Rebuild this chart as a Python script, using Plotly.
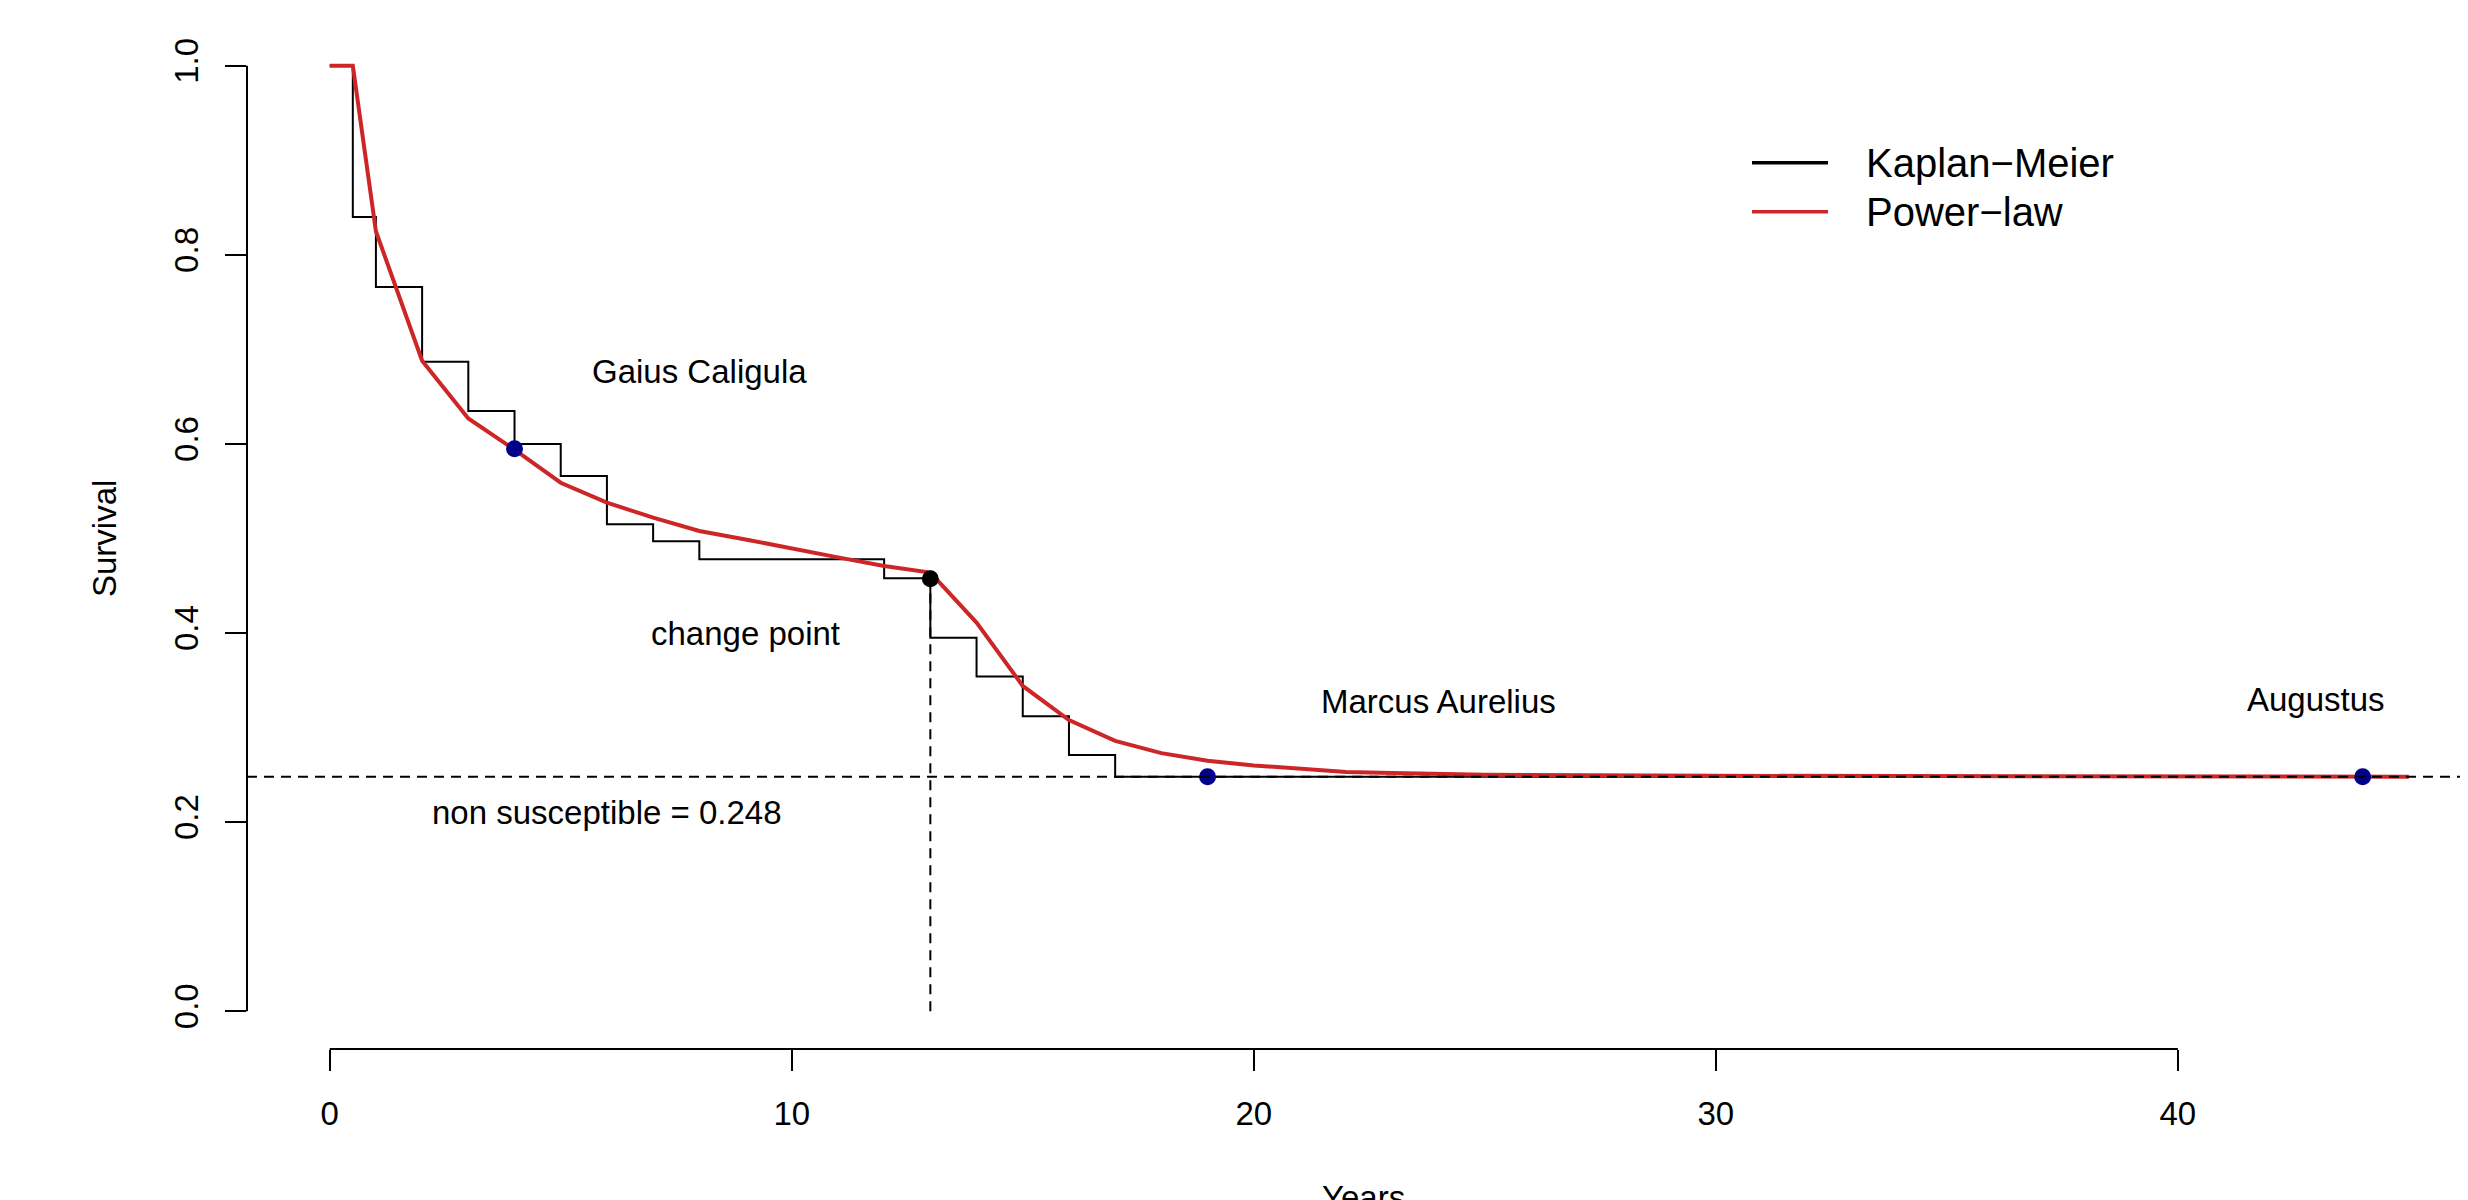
import plotly.graph_objects as go

# ---------------- data ----------------
km_time = [0, 0.5, 1, 2, 3, 4, 5, 6, 7, 8, 12, 13, 14, 15, 16, 17, 44]
km_surv = [1.0, 0.840, 0.766, 0.687, 0.635, 0.600, 0.566, 0.515, 0.497, 0.478,
           0.458, 0.395, 0.354, 0.312, 0.271, 0.248, 0.248]

pl_time = [0, 0.5, 1, 2, 3, 4, 5, 6, 7, 8, 9, 10, 11, 12, 13, 14, 15, 16, 17, 18,
           19, 20, 21, 22, 23, 24, 25, 30, 35, 40, 45]
pl_surv = [1.0, 1.0, 0.825, 0.688, 0.627, 0.594, 0.559, 0.538, 0.522, 0.508, 0.499,
           0.489, 0.480, 0.471, 0.464, 0.411, 0.344, 0.308, 0.286, 0.273, 0.265,
           0.260, 0.256, 0.253, 0.252, 0.251, 0.250, 0.249, 0.2485, 0.248, 0.248]

non_susceptible = 0.248
change_time = 13
change_surv = 0.4574

emperor_names = ["Gaius Caligula", "Marcus Aurelius", "Augustus"]
emperor_time = [4, 19, 44]
emperor_surv = [0.595, 0.248, 0.248]
emperor_label_x = [8, 24, 43]
emperor_label_y = [0.677, 0.328, 0.330]

x_ticks = [0, 10, 20, 30, 40]
y_ticks = [0.0, 0.2, 0.4, 0.6, 0.8, 1.0]
y_tick_labels = ["0.0", "0.2", "0.4", "0.6", "0.8", "1.0"]

# ---------------- layout constants ----------------
OFF = 8                      # default page body margin
W, H = 2468 - OFF, 1200 - OFF
PL, PT, PW, PH = 247 - OFF, 28 - OFF, 2221, 1021
FONT = "Liberation Sans, Arial, Helvetica, sans-serif"
RED = "#CD2626"
BLUE = "#00008B"


def px_x(px):
    """screen pixel -> paper x"""
    return (px - OFF - PL) / PW


def px_y(py):
    """screen pixel -> paper y"""
    return (PT + PH - (py - OFF)) / PH


fig = go.Figure()

# Kaplan-Meier step curve
fig.add_trace(go.Scatter(x=km_time, y=km_surv, mode="lines", line_shape="hv",
                         line=dict(color="black", width=2), showlegend=False,
                         hoverinfo="skip"))
# Power-law fit
fig.add_trace(go.Scatter(x=pl_time, y=pl_surv, mode="lines",
                         line=dict(color=RED, width=4), showlegend=False,
                         hoverinfo="skip"))
# vertical dashed line at change point
fig.add_trace(go.Scatter(x=[change_time, change_time], y=[0, change_surv], mode="lines",
                         line=dict(color="black", width=2, dash="10px,7px"),
                         showlegend=False, hoverinfo="skip"))

# horizontal dashed line (non susceptible)
fig.add_shape(type="line", xref="paper", yref="y", x0=0, x1=1,
              y0=non_susceptible, y1=non_susceptible,
              line=dict(color="black", width=2, dash="10px,7px"), layer="above")

# points
fig.add_trace(go.Scatter(x=emperor_time, y=emperor_surv, mode="markers",
                         marker=dict(color=BLUE, size=17), showlegend=False,
                         hoverinfo="skip"))
fig.add_trace(go.Scatter(x=[change_time], y=[change_surv], mode="markers",
                         marker=dict(color="black", size=17), showlegend=False,
                         hoverinfo="skip"))

annots = []
for name, lx, ly in zip(emperor_names, emperor_label_x, emperor_label_y):
    annots.append(dict(x=lx, y=ly, xref="x", yref="y", text=name, showarrow=False,
                       font=dict(family=FONT, size=33, color="black"),
                       xanchor="center", yanchor="middle"))
annots.append(dict(x=9, y=0.40, xref="x", yref="y", text="change point", showarrow=False,
                   font=dict(family=FONT, size=33, color="black"),
                   xanchor="center", yanchor="middle"))
annots.append(dict(x=6, y=0.21, xref="x", yref="y",
                   text=f"non susceptible = {non_susceptible}", showarrow=False,
                   font=dict(family=FONT, size=33, color="black"),
                   xanchor="center", yanchor="middle"))
# axis titles
annots.append(dict(x=px_x(104.5), y=0.5, xref="paper", yref="y", text="Survival",
                   textangle=-90, showarrow=False,
                   font=dict(family=FONT, size=33, color="black"),
                   xanchor="center", yanchor="middle"))
annots.append(dict(x=22.375, y=px_y(1197), xref="x", yref="paper", text="Years",
                   showarrow=False, font=dict(family=FONT, size=33, color="black"),
                   xanchor="center", yanchor="middle"))

# manual legend
legend_items = [("Kaplan\u2212Meier", "black", 162.7), ("Power\u2212law", RED, 211.7)]
for label, col, yy in legend_items:
    fig.add_shape(type="line", xref="paper", yref="paper", x0=px_x(1752), x1=px_x(1828),
                  y0=px_y(yy), y1=px_y(yy), line=dict(color=col, width=3.5))
    annots.append(dict(x=px_x(1864), y=px_y(yy), xref="paper", yref="paper", text=label,
                       showarrow=False, font=dict(family=FONT, size=40, color="black"),
                       xanchor="left", yanchor="middle"))

# axis lines (R style: only between extreme ticks)
fig.add_shape(type="line", xref="x", yref="paper", x0=x_ticks[0], x1=x_ticks[-1], y0=0, y1=0,
              line=dict(color="black", width=2))
fig.add_shape(type="line", xref="paper", yref="y", x0=0, x1=0, y0=y_ticks[0], y1=y_ticks[-1],
              line=dict(color="black", width=2))

fig.update_layout(
    width=W, height=H,
    margin=dict(l=PL, r=W - PL - PW, t=PT, b=H - PT - PH),
    paper_bgcolor="white", plot_bgcolor="white",
    annotations=annots,
    showlegend=False,
    xaxis=dict(range=[-1.79, 46.28], tickvals=x_ticks, ticks="outside", ticklen=21,
               tickwidth=2, tickcolor="black", showgrid=False, zeroline=False,
               showline=False, tickfont=dict(family=FONT, size=33, color="black"),
               ticklabelstandoff=14),
    yaxis=dict(range=[-0.04, 1.04], tickvals=y_ticks, ticktext=y_tick_labels,
               ticks="outside", ticklen=21, tickwidth=2, tickcolor="black",
               showgrid=False, zeroline=False, showline=False, tickangle=-90,
               tickfont=dict(family=FONT, size=33, color="black"),
               ticklabelstandoff=14),
)

fig.write_html("out.html", config={"displayModeBar": False})
